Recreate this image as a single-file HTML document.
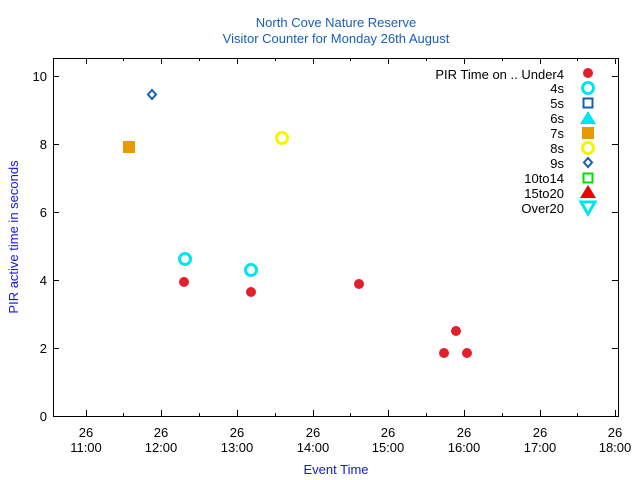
<!DOCTYPE html>
<html><head><style>body{margin:0;background:#fff}svg{display:block}text{font-family:"Liberation Sans",sans-serif;font-size:13px}</style></head><body>
<svg width="640" height="480" xmlns="http://www.w3.org/2000/svg">
<rect width="640" height="480" fill="#fff"/>
<text x="336" y="27" text-anchor="middle" fill="#1a5fb4" font-size="13">North Cove Nature Reserve</text>
<text x="336" y="43" text-anchor="middle" fill="#1a5fb4">Visitor Counter for Monday 26th August</text>
<rect x="53.5" y="58.5" width="565" height="358" fill="none" stroke="#000" stroke-width="1"/>
<g stroke="#000">
<path d="M53 348.5h6M53 280.5h6M53 212.5h6M53 144.5h6M53 76.5h6M618 348.5h-6M618 280.5h-6M618 212.5h-6M618 144.5h-6M618 76.5h-6"/>
<path d="M86.5 416v-6M161.5 416v-6M237.5 416v-6M313.5 416v-6M388.5 416v-6M464.5 416v-6M540.5 416v-6M615.5 416v-6"/>
<path d="M86.5 58v6M161.5 58v6M237.5 58v6M313.5 58v6M388.5 58v6M464.5 58v6M540.5 58v6M615.5 58v6"/>
<path d="M123.5 416v-3M199.5 416v-3M275.5 416v-3M350.5 416v-3M426.5 416v-3M502.5 416v-3M577.5 416v-3"/>
<path d="M123.5 58v3M199.5 58v3M275.5 58v3M350.5 58v3M426.5 58v3M502.5 58v3M577.5 58v3"/>
</g>
<g text-anchor="end" fill="#000">
<text x="47" y="421">0</text><text x="47" y="353">2</text><text x="47" y="285">4</text><text x="47" y="217">6</text><text x="47" y="149">8</text><text x="47" y="81">10</text>
</g>
<g text-anchor="middle" fill="#000">
<text x="86" y="437">26</text><text x="86" y="452">11:00</text>
<text x="161" y="437">26</text><text x="161" y="452">12:00</text>
<text x="237" y="437">26</text><text x="237" y="452">13:00</text>
<text x="313" y="437">26</text><text x="313" y="452">14:00</text>
<text x="388" y="437">26</text><text x="388" y="452">15:00</text>
<text x="464" y="437">26</text><text x="464" y="452">16:00</text>
<text x="540" y="437">26</text><text x="540" y="452">17:00</text>
<text x="615" y="437">26</text><text x="615" y="452">18:00</text>
</g>
<text x="336" y="474" text-anchor="middle" fill="#1515e0">Event Time</text>
<text transform="translate(18,237) rotate(-90)" text-anchor="middle" fill="#1515e0">PIR active time in seconds</text>
<!-- data -->
<g fill="#e0202a">
<circle cx="184" cy="282" r="5"/><circle cx="251" cy="292" r="5"/><circle cx="359" cy="284" r="5"/>
<circle cx="456" cy="331" r="5"/><circle cx="444" cy="353" r="5"/><circle cx="467" cy="353" r="5"/>
</g>
<g fill="none" stroke="#00e5ee" stroke-width="3">
<circle cx="185" cy="259" r="5.5"/><circle cx="251" cy="270" r="5.5"/>
</g>
<rect x="123" y="141" width="12" height="12" fill="#e69a00"/>
<circle cx="282" cy="138" r="5.5" fill="none" stroke="#f5f500" stroke-width="3"/>
<path d="M152 90l4 4.5-4 4.5-4-4.5z" fill="none" stroke="#1560b0" stroke-width="2"/>
<!-- legend -->
<g text-anchor="end" fill="#000">
<text x="564" y="79">PIR Time on .. Under4</text>
<text x="564" y="93">4s</text><text x="564" y="108">5s</text><text x="564" y="123">6s</text>
<text x="564" y="138">7s</text><text x="564" y="153">8s</text><text x="564" y="168">9s</text>
<text x="564" y="183">10to14</text><text x="564" y="198">15to20</text><text x="564" y="213">Over20</text>
</g>
<circle cx="588" cy="73" r="5" fill="#e0202a"/>
<circle cx="588" cy="88" r="5.5" fill="none" stroke="#00e5ee" stroke-width="3"/>
<rect x="583.5" y="98.5" width="9" height="9" fill="none" stroke="#1560b0" stroke-width="2"/>
<path d="M588 111l8 13h-16z" fill="#00e5ee"/>
<rect x="582" y="127" width="12" height="12" fill="#e69a00"/>
<circle cx="588" cy="148" r="5.5" fill="none" stroke="#f5f500" stroke-width="3"/>
<path d="M588 158l4 4.5-4 4.5-4-4.5z" fill="none" stroke="#1560b0" stroke-width="2"/>
<rect x="583.5" y="173.5" width="9" height="9" fill="none" stroke="#00e000" stroke-width="2"/>
<path d="M588 185l8 13h-16z" fill="#f00000"/>
<path d="M581 202h14l-7 12z" fill="none" stroke="#00e5ee" stroke-width="3"/>
</svg>
</body></html>
